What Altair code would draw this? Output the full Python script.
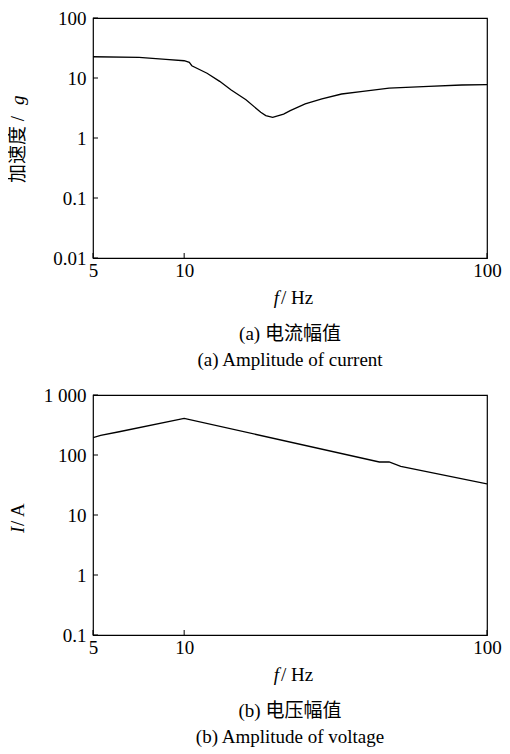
import altair as alt
import pandas as pd

# ---- data ----
freq_a = [5, 7.1, 8.7, 10, 10.4, 10.6, 11.9, 13.1, 14.3, 16.0, 17.9, 18.6, 19.6,
          21.3, 22.4, 25.1, 28.5, 33.1, 38.9, 47.5, 64.2, 82.5, 100]
acc_a = [22.6, 22.1, 20.5, 19.4, 18.2, 16.0, 12.0, 8.8, 6.3, 4.35, 2.68, 2.36, 2.21,
         2.51, 2.85, 3.69, 4.47, 5.41, 6.0, 6.8, 7.27, 7.64, 7.74]

freq_b = [5, 5.3, 6.1, 10, 44.1, 47.5, 51.9, 100]
cur_b = [194, 212, 244, 408, 76.5, 76.5, 64.7, 32.9]

x_ticks = [5, 10, 100]
y_ticks_a = [0.01, 0.1, 1, 10, 100]
y_ticks_b = [0.1, 1, 10, 100, 1000]

caption_a = ["(a) 电流幅值", "(a)  Amplitude of current"]
caption_b = ["(b) 电压幅值", "(b)  Amplitude of voltage"]
ytitle_a = ["加速度 /", "g"]
ytitle_b = ["I", " / A"]
xtitle = ["f", "/ Hz"]

W, H = 394, 240
FONT = "Liberation Serif, Noto Sans CJK SC"
FS = 19


def txt(s, x, y, align="center", italic=False, angle=0, baseline="alphabetic"):
    kw = dict(text=s, font=FONT, fontSize=FS, align=align, baseline=baseline,
              color="black", fontStyle="italic" if italic else "normal")
    if angle:
        kw["angle"] = angle
    return alt.Chart(pd.DataFrame({"t": [s]})).mark_text(**kw).encode(
        x=alt.value(x), y=alt.value(y))


def panel(fx, fy, ydom, yticks, ytitle_parts, ytitle_italic, caps):
    df = pd.DataFrame({"f": fx, "v": fy})
    xsc = alt.Scale(type="log", domain=[5, 100], nice=False)
    ysc = alt.Scale(type="log", domain=ydom, nice=False)
    line = alt.Chart(df).mark_line(color="black", strokeWidth=1.3, clip=True).encode(
        x=alt.X("f:Q", scale=xsc,
                axis=alt.Axis(values=x_ticks, title=None, labelExpr="format(datum.value, '~g')",
                              labelPadding=3, ticks=False, domain=False, grid=False)),
        y=alt.Y("v:Q", scale=ysc,
                axis=alt.Axis(values=yticks, title=None,
                              labelExpr="datum.value == 1000 ? '1 000' : format(datum.value, '~g')",
                              labelPadding=7, ticks=False, domain=False, grid=False)),
    )
    xt = alt.Chart(pd.DataFrame({"t": x_ticks})).mark_rule(color="black", strokeWidth=1).encode(
        x=alt.X("t:Q", scale=xsc), y=alt.value(H - 5), y2=alt.value(H))
    yt = alt.Chart(pd.DataFrame({"t": yticks})).mark_rule(color="black", strokeWidth=1).encode(
        y=alt.Y("t:Q", scale=ysc), x=alt.value(0), x2=alt.value(5))
    c = W / 2
    layers = [line, xt, yt,
              txt(xtitle[0], c - 11, H + 46, align="right", italic=True),
              txt(xtitle[1], c - 9, H + 46, align="left"),
              txt(caps[0], c, H + 82),
              txt(caps[1], c, H + 108)]
    if ytitle_italic == 1:
        layers.append(txt(ytitle_parts[0], -75, 165, align="left", angle=270, baseline="middle"))
        layers.append(txt(ytitle_parts[1], -75, 87, align="left", italic=True, angle=270, baseline="middle"))
    else:
        layers.append(txt(ytitle_parts[0], -75, 138, align="left", italic=True, angle=270, baseline="middle"))
        layers.append(txt(ytitle_parts[1], -75, 131, align="left", angle=270, baseline="middle"))
    return alt.layer(*layers).properties(width=W, height=H)


top = panel(freq_a, acc_a, [0.01, 100], y_ticks_a, ytitle_a, 1, caption_a)
bot = panel(freq_b, cur_b, [0.1, 1000], y_ticks_b, ytitle_b, 0, caption_b)

chart = alt.vconcat(top, bot, spacing=14).properties(
    padding={"left": 0, "top": 0, "right": 0, "bottom": 0}
).configure(background="white").configure_view(
    stroke="black", strokeWidth=1.2
).configure_axis(
    ticks=False, domain=False, grid=False, labelFont=FONT, labelFontSize=FS,
    labelColor="black", labelFlush=False, labelOverlap=False
)

chart.save("out.html", embed_options={"renderer": "svg", "actions": False})
